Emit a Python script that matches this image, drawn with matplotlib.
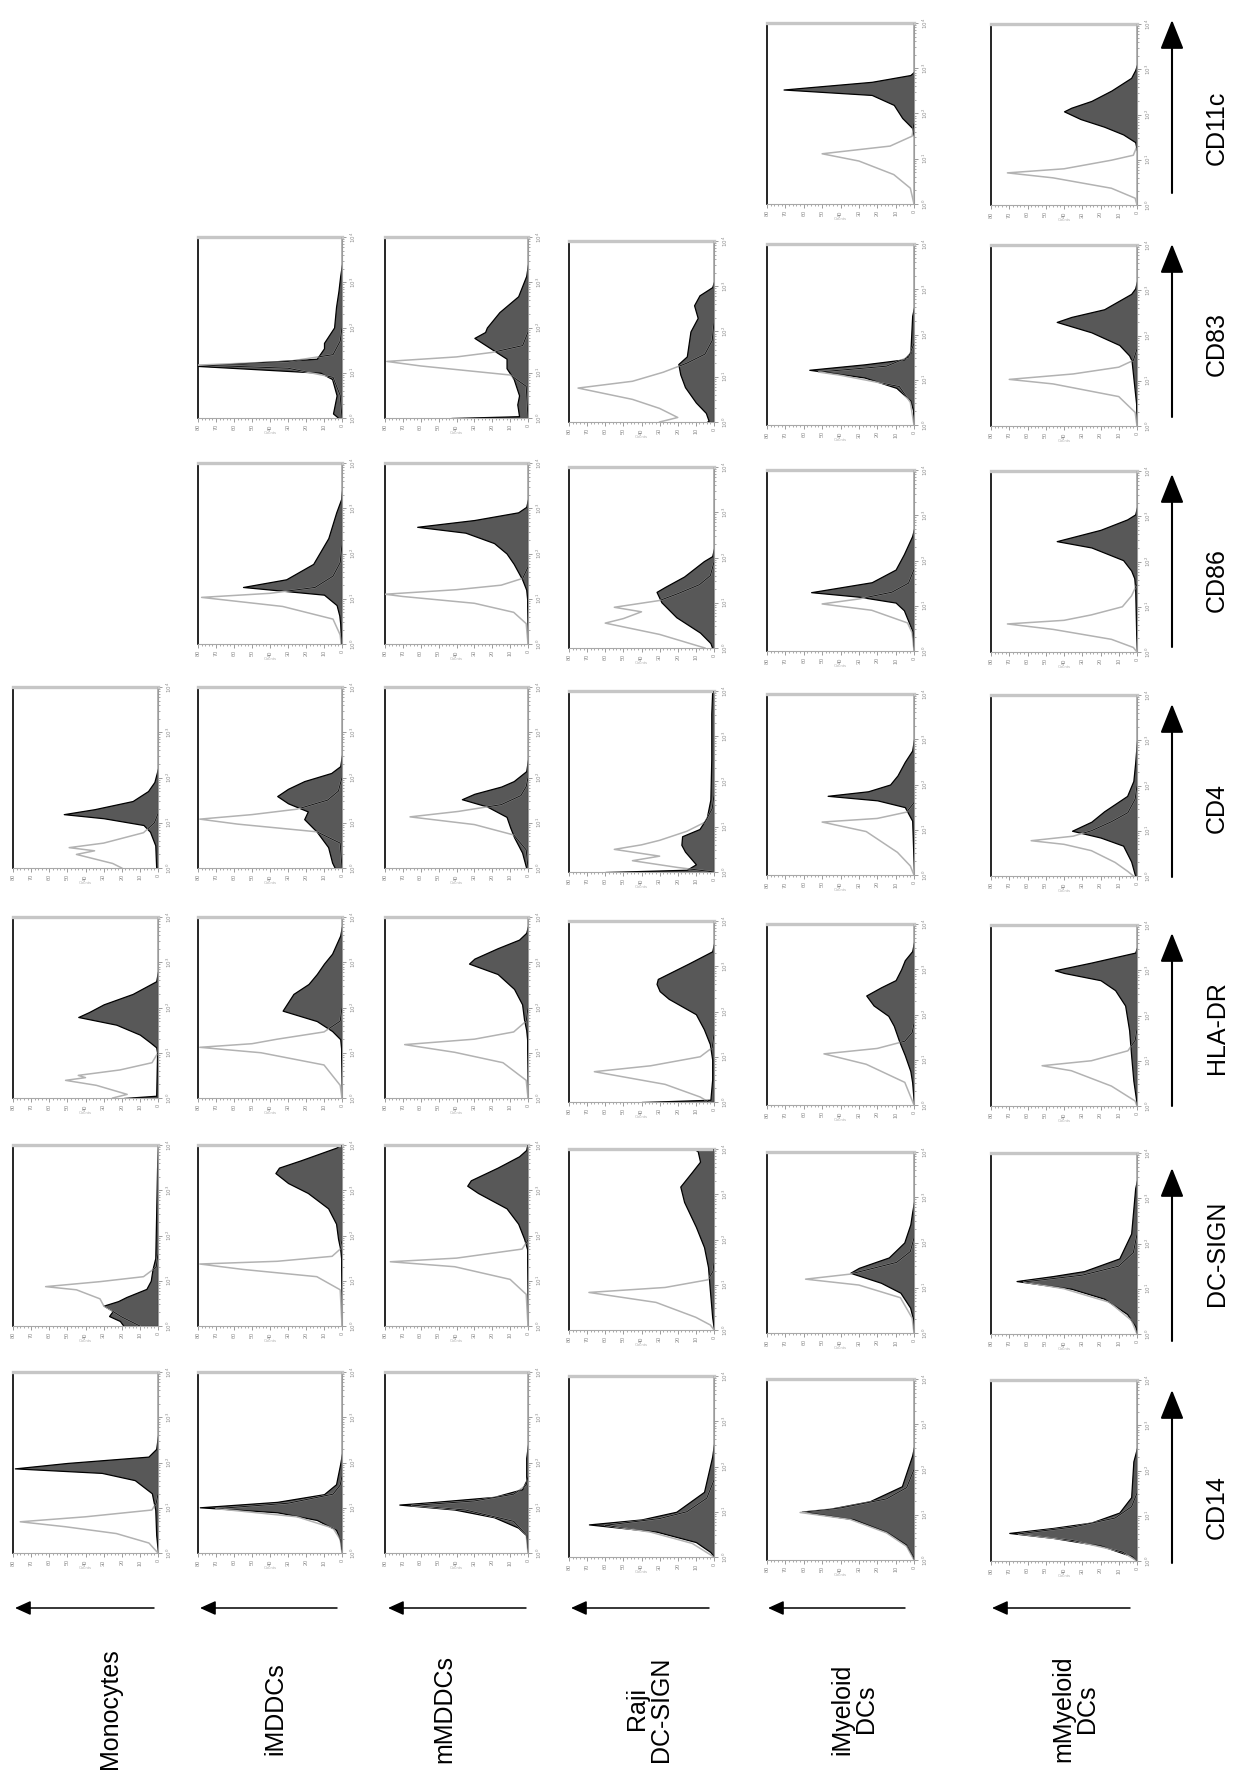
import matplotlib.pyplot as plt

plt.rcParams['font.family'] = ['Liberation Sans', 'DejaVu Sans']

# cell types (columns, left to right) and markers (rows, top to bottom)
cells = ["Monocytes", "iMDDCs", "mMDDCs", "Raji\nDC-SIGN", "iMyeloid\nDCs", "mMyeloid\nDCs"]
markers = ["CD11c", "CD83", "CD86", "CD4", "HLA-DR", "DC-SIGN", "CD14"]

count_ticks = [0, 10, 20, 30, 40, 50, 60, 70, 80]
decade_ticks = [0, 1, 2, 3, 4]

# histograms as (log10 fluorescence, counts) vertices; iso = isotype control, stain = marker
mono_iso = {
    "CD4": [(0, 20), (0.1, 25), (0.3, 45), (0.38, 35), (0.45, 49), (0.55, 30), (0.78, 8), (1.0, 2), (1.2, 0), (4, 0)],
    "HLA-DR": [(0, 25), (0.08, 17), (0.28, 34), (0.39, 51), (0.45, 40), (0.5, 44), (0.62, 21), (0.78, 3.3), (1.0, 0), (4, 0)],
    "DC-SIGN": [(0, 10), (0.2, 20), (0.45, 30), (0.6, 32), (0.8, 45), (0.87, 62), (0.98, 32), (1.09, 8), (1.3, 1), (1.6, 0), (4, 0)],
    "CD14": [(0, 0), (0.22, 5), (0.43, 23), (0.58, 51), (0.69, 76), (0.8, 40), (0.95, 3.4), (1.1, 1), (1.3, 0), (4, 0)],
}
mono_stain = {
    "CD4": [(0, 1), (0.5, 1.5), (0.8, 4.4), (0.95, 8), (1.1, 30), (1.19, 52), (1.3, 35), (1.48, 14), (1.7, 5.5), (1.9, 2), (2.2, 0), (4, 0)],
    "HLA-DR": [(0, 19), (0.05, 1), (1.0, 0.5), (1.12, 1), (1.23, 4.4), (1.4, 10), (1.62, 23), (1.79, 44), (1.9, 38), (2.07, 30), (2.3, 14), (2.58, 1), (2.8, 0), (4, 0)],
    "DC-SIGN": [(0, 19), (0.11, 21), (0.22, 27), (0.33, 25), (0.45, 30), (0.55, 22), (0.64, 17.5), (0.82, 6.4), (1.0, 4), (1.26, 3), (1.5, 1.5), (2.5, 1), (3.5, 0.5), (4, 0)],
    "CD14": [(0, 0), (0.4, 1), (0.95, 1.5), (1.32, 3.4), (1.61, 12.8), (1.77, 31), (1.87, 79), (1.99, 50), (2.13, 5.3), (2.3, 1), (2.6, 0), (4, 0)],
}

imddc_iso = {
    "CD83": [(0, 0), (0.5, 1), (0.9, 5), (1.1, 30), (1.17, 80), (1.25, 30), (1.4, 5), (1.7, 1), (2.0, 0), (4, 0)],
    "CD86": [(0, 0.5), (0.2, 1), (0.55, 5), (0.83, 33), (1.03, 78), (1.12, 40), (1.25, 15), (1.5, 5), (1.8, 1), (2.2, 0), (4, 0)],
    "CD4": [(0, 0), (0.55, 1), (0.8, 14), (0.97, 58), (1.08, 79), (1.18, 50), (1.3, 25), (1.5, 8), (1.7, 2), (2.0, 0), (4, 0)],
    "HLA-DR": [(0, 0), (0.28, 1), (0.73, 10), (1.0, 45), (1.12, 79), (1.2, 50), (1.3, 36), (1.46, 10), (1.7, 1), (2.0, 0), (4, 0)],
    "DC-SIGN": [(0, 0), (0.8, 1), (1.09, 14), (1.25, 55), (1.37, 79), (1.43, 36), (1.54, 5.5), (1.7, 1), (1.9, 0), (4, 0)],
    "CD14": [(0, 0), (0.3, 1), (0.55, 5), (0.8, 25), (0.98, 70), (1.1, 30), (1.3, 5), (1.5, 1), (1.7, 0), (4, 0)],
}
imddc_stain = {
    "CD83": [(0, 2), (0.1, 5), (0.5, 3), (0.86, 5.5), (1.0, 12), (1.15, 80), (1.31, 14), (1.54, 10), (1.66, 10), (2.0, 4.4), (2.46, 3.3), (2.8, 2), (3.14, 1), (3.4, 0), (4, 0)],
    "CD86": [(0, 0.5), (0.45, 1), (0.63, 1.5), (0.86, 3), (1.09, 10), (1.26, 55), (1.43, 31), (1.77, 16), (2.34, 7.6), (2.91, 3.2), (3.2, 0.5), (3.4, 0), (4, 0)],
    "CD4": [(0, 4), (0.12, 5.5), (0.46, 7.7), (0.8, 14), (1.08, 21), (1.25, 19), (1.43, 30), (1.59, 36), (1.75, 30), (1.92, 21), (2.1, 6), (2.25, 1), (2.5, 0), (4, 0)],
    "HLA-DR": [(0, 0), (1.1, 0.5), (1.3, 1), (1.48, 5.5), (1.7, 14), (1.93, 33), (2.3, 27), (2.52, 18.6), (2.74, 14), (2.97, 10), (3.19, 5.5), (3.59, 1), (3.8, 0), (4, 0)],
    "DC-SIGN": [(0, 0), (1.5, 0.5), (1.7, 1), (1.93, 2.2), (2.26, 3.3), (2.6, 7.7), (2.94, 19), (3.16, 30), (3.38, 37), (3.5, 35), (3.66, 23), (3.94, 3.3), (4, 1)],
    "CD14": [(0, 0), (0.28, 1), (0.51, 3.3), (0.73, 14), (0.9, 36), (1.01, 79), (1.13, 36), (1.3, 10), (1.52, 3.3), (1.97, 1), (2.2, 0), (4, 0)],
}

mmddc_iso = {
    "CD83": [(0, 0), (0.7, 1), (0.95, 10), (1.15, 60), (1.25, 79), (1.35, 40), (1.45, 20), (1.6, 3), (1.9, 0), (4, 0)],
    "CD86": [(0, 0), (0.45, 1), (0.7, 8), (0.9, 30), (1.05, 70), (1.1, 80), (1.2, 40), (1.3, 15), (1.45, 3), (1.7, 0), (4, 0)],
    "CD4": [(0, 0), (0.4, 1), (0.73, 8), (0.96, 30), (1.13, 66), (1.25, 39), (1.4, 15), (1.6, 4), (1.8, 1), (2.0, 0), (4, 0)],
    "HLA-DR": [(0, 0), (0.39, 1), (0.78, 14), (1.01, 41), (1.18, 69), (1.3, 30), (1.46, 8), (1.7, 1), (2.0, 0), (4, 0)],
    "DC-SIGN": [(0, 0), (0.7, 1), (1.03, 10), (1.31, 41), (1.42, 77), (1.5, 40), (1.7, 3.3), (1.9, 0), (4, 0)],
    "CD14": [(0, 0), (0.4, 1), (0.7, 8), (0.95, 35), (1.05, 65), (1.15, 30), (1.3, 8), (1.5, 1), (1.7, 0), (4, 0)],
}
mmddc_stain = {
    "CD83": [(0, 43), (0.04, 5), (0.3, 6), (0.5, 5), (0.86, 8), (1.1, 12), (1.31, 12), (1.54, 21), (1.77, 30), (1.9, 24), (2.0, 23), (2.34, 16), (2.69, 5.5), (3.14, 1), (3.4, 0), (4, 0)],
    "CD86": [(0, 0), (1.0, 0.5), (1.2, 1), (1.43, 3.3), (1.77, 8), (2.0, 12), (2.23, 19), (2.46, 35), (2.59, 62), (2.74, 30), (2.91, 5.5), (3.03, 1), (3.2, 0), (4, 0)],
    "CD4": [(0, 1), (0.34, 3.3), (0.68, 7.8), (0.9, 10), (1.13, 12), (1.36, 23), (1.52, 37), (1.64, 30), (1.8, 15), (1.92, 8), (2.14, 1), (2.4, 0), (4, 0)],
    "HLA-DR": [(0, 0), (1.3, 0.5), (1.5, 1), (1.73, 2.2), (2.07, 3.3), (2.41, 7.8), (2.74, 17), (2.97, 33), (3.08, 30), (3.31, 17), (3.5, 5), (3.65, 1), (3.8, 0), (4, 0)],
    "DC-SIGN": [(0, 0), (1.7, 0.5), (1.93, 2.2), (2.26, 5.5), (2.6, 12), (2.94, 28), (3.1, 34), (3.22, 32), (3.5, 17), (3.75, 5), (3.89, 1), (4, 0.5)],
    "CD14": [(0, 0), (0.39, 1), (0.56, 5.5), (0.79, 19), (0.96, 41), (1.07, 72), (1.13, 52), (1.24, 19), (1.41, 3.3), (1.6, 1), (2.1, 1), (2.4, 0), (4, 0)],
}

raji_iso = {
    "CD83": [(0, 30), (0.1, 20), (0.3, 30), (0.5, 45), (0.75, 75), (0.9, 45), (1.1, 28), (1.3, 15), (1.5, 5), (1.8, 1), (2.2, 0), (4, 0)],
    "CD86": [(0, 5), (0.3, 30), (0.55, 60), (0.65, 50), (0.8, 40), (0.9, 55), (1.05, 30), (1.2, 20), (1.4, 8), (1.6, 2), (1.9, 0), (4, 0)],
    "CD4": [(0, 0), (0.1, 20), (0.25, 45), (0.35, 30), (0.5, 55), (0.6, 40), (0.7, 30), (0.9, 15), (1.1, 5), (1.4, 1), (1.7, 0), (4, 0)],
    "HLA-DR": [(0, 3), (0.11, 7.6), (0.39, 27), (0.67, 66), (0.8, 35), (1.0, 7.6), (1.2, 1), (1.5, 0), (4, 0)],
    "DC-SIGN": [(0, 0), (0.11, 2), (0.28, 10), (0.61, 32), (0.83, 69), (0.94, 27), (1.11, 3.3), (1.3, 0.5), (1.5, 0), (4, 0)],
    "CD14": [(0, 0), (0.3, 12), (0.55, 35), (0.7, 60), (0.85, 30), (1.0, 15), (1.3, 4), (1.7, 0), (4, 0)],
}
raji_stain = {
    "CD83": [(0, 4), (0.03, 3), (0.2, 4.5), (0.43, 10), (0.77, 16), (1.05, 18.6), (1.28, 19.7), (1.45, 15), (2.0, 13), (2.3, 9), (2.58, 11), (2.8, 8), (2.98, 1), (3.1, 0), (4, 0)],
    "CD86": [(0, 1), (0.11, 2), (0.34, 7.7), (0.68, 20.8), (1.01, 29), (1.24, 31.7), (1.35, 27), (1.58, 16.5), (1.92, 5.6), (2.03, 1), (2.2, 0), (4, 0)],
    "CD4": [(0, 60), (0.05, 15), (0.17, 10), (0.45, 16), (0.6, 18), (0.79, 17.6), (0.95, 8), (1.2, 4), (1.6, 2), (2.5, 1.5), (3.5, 1.5), (4, 1)],
    "HLA-DR": [(0, 40), (0.05, 2), (0.5, 1), (0.94, 1), (1.28, 2.3), (1.61, 5.6), (1.94, 10), (2.28, 25), (2.45, 30), (2.61, 31.7), (2.72, 31), (3.06, 14), (3.33, 1), (3.5, 0), (4, 0)],
    "DC-SIGN": [(0, 0), (0.28, 1), (0.94, 2.4), (1.39, 3.3), (1.83, 5.5), (2.28, 10), (2.83, 16.5), (3.17, 18.6), (3.5, 12), (3.72, 7.7), (3.95, 9), (4, 11)],
    "CD14": [(0, 0), (0.11, 2), (0.33, 10), (0.56, 31.7), (0.72, 69), (0.83, 40), (1.0, 20.8), (1.44, 5.5), (2.22, 1), (2.5, 0), (4, 0)],
}

imyel_iso = {
    "CD11c": [(0, 0), (0.35, 2), (0.65, 11), (0.95, 30), (1.11, 50), (1.28, 13), (1.5, 1), (1.8, 0), (4, 0)],
    "CD83": [(0, 0), (0.5, 2), (0.85, 8), (1.1, 40), (1.17, 52), (1.3, 15), (1.5, 3), (1.8, 0), (4, 0)],
    "CD86": [(0, 0), (0.4, 1), (0.62, 3.5), (0.9, 23), (1.04, 50), (1.15, 30), (1.3, 12), (1.5, 3), (1.8, 0), (4, 0)],
    "CD4": [(0, 0), (0.2, 2), (0.5, 9), (0.96, 26), (1.17, 50), (1.25, 20), (1.39, 4), (1.6, 0), (4, 0)],
    "HLA-DR": [(0, 0), (0.5, 5), (0.9, 26), (1.13, 49), (1.25, 20), (1.41, 5), (1.6, 1), (1.8, 0), (4, 0)],
    "DC-SIGN": [(0, 0), (0.33, 1), (0.78, 7.4), (1.06, 30), (1.19, 59), (1.3, 35), (1.56, 9.5), (1.8, 2), (2.1, 0), (4, 0)],
    "CD14": [(0, 0), (0.3, 4), (0.6, 15), (0.9, 35), (1.05, 62), (1.15, 40), (1.35, 15), (1.6, 4), (2.0, 0), (4, 0)],
}
imyel_stain = {
    "CD11c": [(0, 0), (1.5, 0), (1.68, 1), (1.9, 6.4), (2.19, 11), (2.41, 23), (2.53, 71), (2.58, 57), (2.7, 23), (2.85, 2), (2.92, 0), (4, 0)],
    "CD83": [(0, 0), (0.32, 0.5), (0.54, 2), (0.82, 9.6), (1.05, 27), (1.22, 57), (1.34, 27), (1.45, 5.5), (1.6, 2), (2.0, 1.5), (2.41, 1), (2.6, 0), (4, 0)],
    "CD86": [(0, 0), (0.23, 0.5), (0.45, 1), (0.9, 5.5), (1.07, 10), (1.2, 30), (1.3, 56), (1.52, 23), (1.8, 10), (2.14, 5.5), (2.54, 1), (2.7, 0), (4, 0)],
    "CD4": [(0, 0), (1.2, 1), (1.5, 5), (1.65, 20), (1.75, 47), (1.85, 25), (2.0, 13), (2.2, 9), (2.5, 5), (2.75, 1), (3, 0), (4, 0)],
    "HLA-DR": [(0, 0), (0.5, 1), (0.75, 2), (1.1, 5), (1.4, 8), (1.75, 11), (1.97, 14), (2.2, 22), (2.42, 26), (2.6, 18), (2.76, 10), (3.0, 7), (3.2, 5), (3.4, 1), (3.6, 0), (4, 0)],
    "DC-SIGN": [(0, 0), (0.3, 0.5), (0.56, 2.1), (0.89, 7.4), (1.11, 18), (1.33, 34.7), (1.44, 30), (1.67, 13.7), (2.0, 5.3), (2.4, 2), (2.67, 1), (2.9, 0), (4, 0)],
    "CD14": [(0, 0), (0.1, 1), (0.34, 4.4), (0.62, 15), (0.9, 33), (1.07, 61), (1.13, 46), (1.3, 24), (1.63, 6.6), (2.31, 1), (2.5, 0), (4, 0)],
}

mmyel_iso = {
    "CD11c": [(0, 0), (0.15, 1), (0.37, 14), (0.6, 46), (0.71, 71), (0.8, 40), (0.99, 14), (1.1, 2), (1.3, 0), (4, 0)],
    "CD83": [(0, 0), (0.3, 1), (0.65, 10), (0.93, 46), (1.03, 70), (1.15, 35), (1.3, 10), (1.45, 2), (1.7, 0), (4, 0)],
    "CD86": [(0, 0), (0.1, 2), (0.28, 14), (0.5, 46), (0.62, 71), (0.7, 40), (0.82, 25), (1.0, 8), (1.24, 3), (1.5, 0), (4, 0)],
    "CD4": [(0, 2), (0.1, 5), (0.3, 12), (0.56, 25), (0.7, 40), (0.78, 58), (0.88, 35), (1.0, 25), (1.2, 14), (1.4, 5), (1.7, 1), (2.0, 0), (4, 0)],
    "HLA-DR": [(0, 0), (0.11, 1), (0.44, 14), (0.78, 36), (0.89, 52), (1.0, 25), (1.22, 5), (1.45, 1), (1.7, 0), (4, 0)],
    "DC-SIGN": [(0, 0), (0.3, 3), (0.7, 15), (1.0, 40), (1.15, 62), (1.3, 30), (1.5, 10), (1.8, 2), (2.2, 0), (4, 0)],
    "CD14": [(0, 0), (0.2, 8), (0.45, 35), (0.6, 65), (0.75, 35), (0.95, 12), (1.2, 3), (1.5, 0), (4, 0)],
}
mmyel_stain = {
    "CD11c": [(0, 0), (1.2, 0), (1.39, 1), (1.56, 7.6), (1.73, 18), (1.9, 31), (2.07, 40), (2.15, 36), (2.3, 25), (2.53, 14), (2.81, 3.2), (2.98, 1), (3.1, 0), (4, 0)],
    "CD83": [(0, 0), (0.5, 0.5), (1.45, 3), (1.56, 4.3), (1.79, 9.7), (2.07, 25), (2.3, 44), (2.41, 36), (2.58, 18), (2.92, 3.2), (3.04, 1), (3.2, 0), (4, 0)],
    "CD86": [(0, 0), (0.5, 0.5), (1.4, 1), (1.63, 1.5), (1.8, 3.2), (2.03, 7.6), (2.31, 25), (2.45, 44), (2.7, 20), (2.93, 5.4), (3.04, 1), (3.2, 0), (4, 0)],
    "CD4": [(0, 1), (0.32, 3.2), (0.67, 7.6), (0.85, 20), (1.0, 35.6), (1.2, 25), (1.43, 18), (1.77, 5.4), (2.1, 2), (2.5, 1), (3, 0), (4, 0)],
    "HLA-DR": [(0, 0), (0.56, 2), (1.11, 3.2), (1.67, 4.3), (2.22, 6.5), (2.56, 12), (2.78, 20), (2.94, 40), (3.0, 45), (3.17, 25), (3.39, 1), (3.5, 0), (4, 0)],
    "DC-SIGN": [(0, 0), (0.17, 1), (0.44, 5.4), (0.78, 18), (1.0, 36), (1.17, 66), (1.28, 46), (1.39, 29), (1.67, 9.7), (2.22, 3.2), (3.22, 1), (3.4, 0), (4, 0)],
    "CD14": [(0, 0), (0.11, 3.2), (0.34, 20), (0.51, 46), (0.62, 70), (0.73, 46), (0.85, 25), (1.07, 9.7), (1.41, 3.2), (2.2, 2), (2.5, 0), (4, 0)],
}

iso_sets = [mono_iso, imddc_iso, mmddc_iso, raji_iso, imyel_iso, mmyel_iso]
stain_sets = [mono_stain, imddc_stain, mmddc_stain, raji_stain, imyel_stain, mmyel_stain]

# layout in figure pixels
W, H = 1237, 1777
col_left = [13, 198, 385, 569, 767, 991]
col_width = [145, 144, 143, 145, 147, 146]
col_drop = [0, 0, 0, 4, 7, 8]
row_top = [16, 237, 463, 687, 917, 1145, 1372]
panel_h = 181

FILL = '#585858'
ISO = '#b2b2b2'
TICK = '#8c8c8c'

fig = plt.figure(figsize=(W / 100, H / 100), dpi=100)

# overlay in pixel coordinates for the arrows and the row/column labels
ov = fig.add_axes([0, 0, 1, 1])
ov.set_xlim(0, W)
ov.set_ylim(H, 0)
ov.axis('off')


def draw_panel(ax, iso, stain):
    sd = [p[0] for p in stain]
    sc = [p[1] for p in stain]
    idd = [p[0] for p in iso]
    ic = [p[1] for p in iso]
    poly = ax.fill_betweenx(sd, 0, sc, facecolor=FILL, edgecolor='black', linewidth=0.9, zorder=2)
    ax.plot(ic, idd, color=ISO, lw=1.1, zorder=3)
    # where the isotype curve crosses the filled histogram it shows up dark
    inner, = ax.plot(ic, idd, color='#1a1a1a', lw=0.8, zorder=4)
    inner.set_clip_path(poly.get_paths()[0], poly.get_transform())

    ax.set_xlim(80, 0)
    ax.set_ylim(0, 4)
    ax.yaxis.tick_right()
    ax.set_yticks(decade_ticks)
    ax.set_yticklabels([f'$10^{d}$' for d in decade_ticks], rotation=90, va='center')
    minor_y = [d + m for d in range(4) for m in (0.301, 0.477, 0.602, 0.699, 0.778, 0.845, 0.903, 0.954)]
    ax.set_yticks(minor_y, minor=True)
    ax.set_xticks(count_ticks)
    ax.set_xticklabels([str(c) for c in count_ticks], rotation=90)
    ax.set_xticks(list(range(0, 81, 2)), minor=True)
    ax.tick_params(which='major', length=3, width=0.6, color=TICK, labelsize=4,
                   labelcolor=TICK, pad=1.5)
    ax.tick_params(which='minor', length=1.5, width=0.5, color=TICK)
    ax.set_xlabel('Counts', fontsize=3, color='#b0b0b0', labelpad=0.5)
    ax.spines['left'].set_color('black')
    ax.spines['left'].set_linewidth(1.2)
    ax.spines['top'].set_color('#c6c6c6')
    ax.spines['top'].set_linewidth(2.4)
    ax.spines['right'].set_color('#9a9a9a')
    ax.spines['right'].set_linewidth(0.8)
    ax.spines['bottom'].set_color('#a8a8a8')
    ax.spines['bottom'].set_linewidth(0.8)


for c, cell in enumerate(cells):
    for r, marker in enumerate(markers):
        if marker not in stain_sets[c]:
            continue
        top = row_top[r] + col_drop[c]
        rect = [col_left[c] / W, 1 - (top + panel_h) / H, col_width[c] / W, panel_h / H]
        ax = fig.add_axes(rect)
        draw_panel(ax, iso_sets[c][marker], stain_sets[c][marker])

# fluorescence arrows and marker names on the right
arrow_x = 1172
arrow_top = [20, 244, 474, 704, 933, 1168, 1390]
arrow_len = 173
marker_y = [128, 344, 580, 808, 1028, 1253, 1507]
for r, marker in enumerate(markers):
    ov.annotate('', xy=(arrow_x, arrow_top[r]), xytext=(arrow_x, arrow_top[r] + arrow_len),
                arrowprops=dict(arrowstyle='-|>,head_length=1.8,head_width=0.72',
                                mutation_scale=10, lw=1.5, color='black',
                                shrinkA=0, shrinkB=0))
    ov.text(1217, marker_y[r], marker, rotation=90, ha='center', va='center', fontsize=18)

# count arrows and cell type names along the bottom
count_arrow = [(15, 154), (200, 337), (388, 526), (571, 709), (768, 905), (992, 1130)]
cell_x = [110, 275, 444, 649, 854, 1075]
for c, cell in enumerate(cells):
    x0, x1 = count_arrow[c]
    ov.annotate('', xy=(x0, 1608), xytext=(x1, 1608),
                arrowprops=dict(arrowstyle='-|>,head_length=0.95,head_width=0.43',
                                mutation_scale=10, lw=1.1, color='black',
                                shrinkA=0, shrinkB=0))
    ov.text(cell_x[c], 1709, cell, rotation=90, ha='center', va='center',
            fontsize=18, multialignment='center', linespacing=1.0)

fig.savefig('out.png', dpi=100)
